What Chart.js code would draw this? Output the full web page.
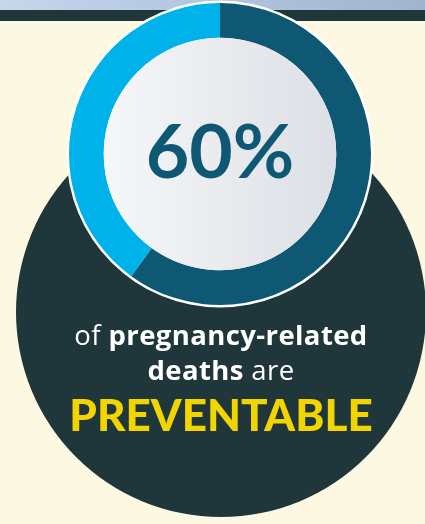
<!DOCTYPE html>
<html>
<head>
<meta charset="utf-8">
<script src="https://cdn.jsdelivr.net/npm/chart.js@4"></script>
<style>
  html, body { margin: 0; padding: 0; background: #fdf8e1; }
  #wrap { width: 425px; height: 524px; position: relative; }
</style>
</head>
<body>
<div id="wrap"><canvas id="myChart" width="425" height="524"></canvas></div>
<script>
// data
var labels = ['Preventable', 'Not preventable'];
var values = [60, 40];
var colors = ['#0e5874', '#00b2ea'];
var centerText = '60%';
var line1 = [['of ', '400'], ['pregnancy-related', '700']];
var line2 = [['deaths', '700'], [' are', '400']];
var line3 = 'PREVENTABLE';

var FONT = 'Lato, "Open Sans", sans-serif';
var FONT2 = '"Open Sans", Lato, sans-serif';

function drawMixed(ctx, parts, size, cx, y) {
  var total = 0;
  ctx.letterSpacing = '0.4px';
  parts.forEach(function (p) {
    ctx.font = p[1] + ' ' + size + 'px ' + FONT2;
    total += ctx.measureText(p[0]).width;
  });
  var x = cx - total / 2;
  ctx.textAlign = 'left';
  parts.forEach(function (p) {
    ctx.font = p[1] + ' ' + size + 'px ' + FONT2;
    ctx.fillText(p[0], x, y);
    x += ctx.measureText(p[0]).width;
  });
  ctx.letterSpacing = '0px';
}

var backdrop = {
  id: 'backdrop',
  beforeDraw: function (chart) {
    var ctx = chart.ctx;
    ctx.save();
    ctx.fillStyle = '#fdf8e1';
    ctx.fillRect(0, 0, 425, 524);
    // top strip
    var g = ctx.createLinearGradient(0, 0, 425, 0);
    g.addColorStop(0, '#c6d6eb');
    g.addColorStop(1, '#9fb4cf');
    ctx.fillStyle = g;
    ctx.fillRect(0, 0, 425, 10);
    ctx.fillStyle = '#1f373b';
    ctx.fillRect(0, 10, 425, 11);
    // big dark circle
    ctx.beginPath();
    ctx.arc(221, 312, 205, 0, Math.PI * 2);
    ctx.fillStyle = '#1f373b';
    ctx.fill();
    ctx.restore();
  },
  beforeDatasetsDraw: function (chart) {
    var arc = chart.getDatasetMeta(0).data[0];
    var ctx = chart.ctx;
    ctx.save();
    ctx.beginPath();
    ctx.arc(arc.x, arc.y, arc.outerRadius + 2.5, 0, Math.PI * 2);
    ctx.fillStyle = '#ffffff';
    ctx.fill();
    ctx.restore();
  },
  afterDatasetsDraw: function (chart) {
    var arc = chart.getDatasetMeta(0).data[0];
    var ctx = chart.ctx;
    var r = arc.innerRadius;
    ctx.save();
    var g = ctx.createLinearGradient(arc.x - r, 0, arc.x + r, 0);
    g.addColorStop(0, '#f6f7f9');
    g.addColorStop(1, '#dcdfe5');
    ctx.beginPath();
    ctx.arc(arc.x, arc.y, r, 0, Math.PI * 2);
    ctx.fillStyle = g;
    ctx.fill();

    ctx.fillStyle = '#0e5874';
    ctx.textAlign = 'center';
    ctx.textBaseline = 'alphabetic';
    ctx.font = 'bold 75px ' + FONT;
    ctx.fillText(centerText, arc.x, 178);

    ctx.fillStyle = '#ffffff';
    drawMixed(ctx, line1, 27.5, 221, 345);
    drawMixed(ctx, line2, 27.5, 221, 380);

    ctx.fillStyle = '#f2d500';
    ctx.textAlign = 'center';
    ctx.font = '900 44px ' + FONT;
    ctx.fillText(line3, 221, 431);
    ctx.restore();
  }
};

var ctx = document.getElementById('myChart');
var myChart = new Chart(ctx, {
  type: 'doughnut',
  data: {
    labels: labels,
    datasets: [{
      data: values,
      backgroundColor: colors,
      borderWidth: 0
    }]
  },
  options: {
    responsive: false,
    animation: false,
    cutout: '77%',
    layout: { padding: { left: 69, right: 54, top: 3, bottom: 219 } },
    plugins: {
      legend: { display: false },
      tooltip: { enabled: false }
    }
  },
  plugins: [backdrop]
});
</script>
</body>
</html>
